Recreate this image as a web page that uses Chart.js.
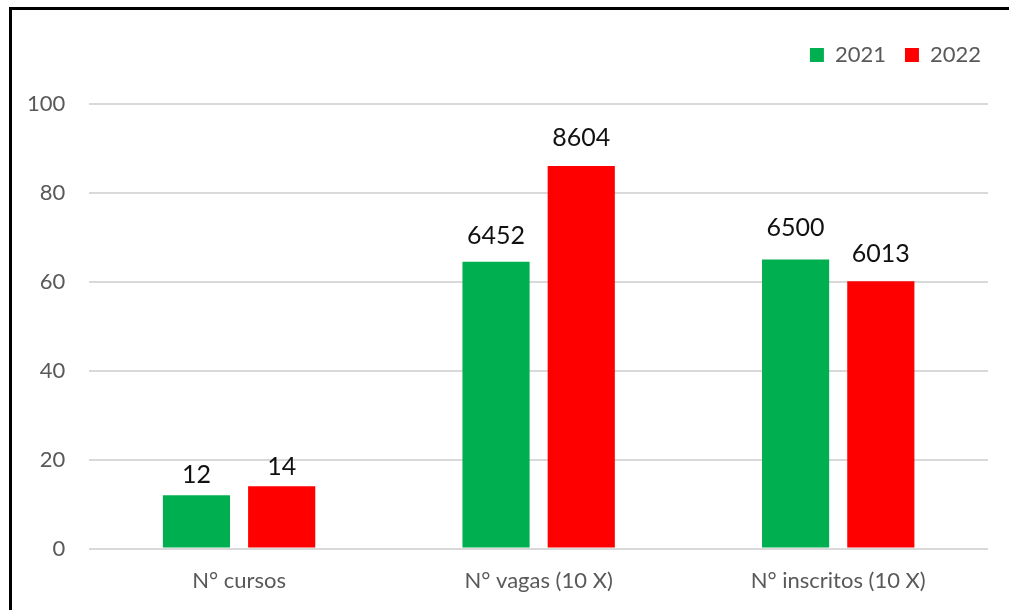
<!DOCTYPE html>
<html>
<head>
<meta charset="utf-8">
<script src="https://cdn.jsdelivr.net/npm/chart.js@4"></script>
<style>
  html, body { margin: 0; padding: 0; background: #fff; }
  #wrap { position: relative; width: 1009px; height: 610px; overflow: hidden; }
  #frame { position: absolute; left: 9px; top: 7px; width: 1100px; height: 700px; border-left: 3px solid #000; border-top: 3px solid #000; pointer-events: none; }
  canvas { position: absolute; left: 0; top: 0; }
</style>
</head>
<body>
<div id="wrap">
  <canvas id="c" width="1009" height="610"></canvas>
  <div id="frame"></div>
</div>
<script>
const categories = ['N° cursos', 'N° vagas (10 X)', 'N° inscritos (10 X)'];
const seriesNames = ['2021', '2022'];
const values2021 = [12, 64.52, 65.00];
const values2022 = [14, 86.04, 60.13];
const labels2021 = ['12', '6452', '6500'];
const labels2022 = ['14', '8604', '6013'];
const yTicks = [0, 20, 40, 60, 80, 100];

const FONT = 'Lato, "Open Sans", sans-serif';

const valueLabels = {
  id: 'valueLabels',
  afterDatasetsDraw(chart, args, opts) {
    const ctx = chart.ctx;
    ctx.save();
    ctx.font = '25px ' + FONT;
    ctx.fillStyle = '#111';
    ctx.textAlign = 'center';
    ctx.textBaseline = 'alphabetic';
    chart.data.datasets.forEach((ds, di) => {
      const meta = chart.getDatasetMeta(di);
      meta.data.forEach((el, i) => {
        const gap = opts.gaps[di][i];
        ctx.fillText(ds.valueText[i], el.x, el.y - gap);
      });
    });
    ctx.restore();
  }
};

const legendTweak = {
  id: 'legendTweak',
  beforeInit(chart, args, opts) {
    const lg = chart.legend;
    const origFit = lg.fit;
    lg.fit = function () {
      origFit.call(this);
      this.height += opts.extraHeight;
    };
  },
  afterLayout(chart, args, opts) {
    chart.legend.left += opts.shiftX;
    chart.legend.right += opts.shiftX;
  }
};

new Chart(document.getElementById('c'), {
  type: 'bar',
  data: {
    labels: categories,
    datasets: [
      { label: seriesNames[0], data: values2021, valueText: labels2021, backgroundColor: '#00B050', borderWidth: 0 },
      { label: seriesNames[1], data: values2022, valueText: labels2022, backgroundColor: '#FF0000', borderWidth: 0 }
    ]
  },
  options: {
    responsive: false,
    animation: false,
    layout: { padding: { left: 3, right: 21, top: 25, bottom: -3 } },
    datasets: { bar: { categoryPercentage: 0.569, barPercentage: 0.788 } },
    plugins: {
      tooltip: { enabled: false },
      valueLabels: { gaps: [[12, 18, 24], [11, 20, 19]] },
      legendTweak: { extraHeight: 28, shiftX: 12 },
      legend: {
        position: 'top',
        align: 'end',
        labels: {
          boxWidth: 14,
          boxHeight: 14,
          padding: 19,
          color: '#595959',
          font: { family: FONT, size: 22 }
        }
      }
    },
    scales: {
      x: {
        grid: { display: false, drawTicks: false },
        border: { display: false },
        ticks: { color: '#595959', font: { family: FONT, size: 22 }, padding: 19 }
      },
      y: {
        min: 0,
        max: 100,
        afterBuildTicks(axis) { axis.ticks = yTicks.map(v => ({ value: v })); },
        grid: { color: '#d9d9d9', lineWidth: 2, drawTicks: false },
        border: { display: false },
        ticks: { color: '#595959', font: { family: FONT, size: 22 }, padding: 24 }
      }
    }
  },
  plugins: [valueLabels, legendTweak]
});
</script>
</body>
</html>
